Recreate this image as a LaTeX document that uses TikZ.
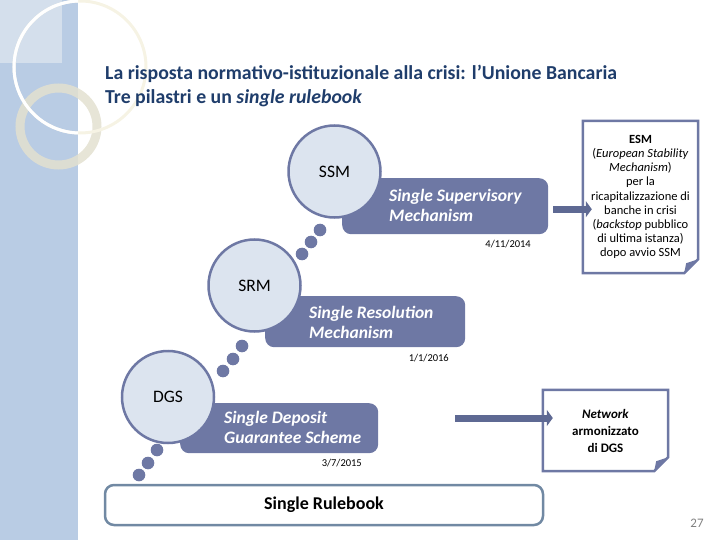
\documentclass[tikz,border=0pt]{standalone}
\usepackage{fontspec}
\setmainfont{Carlito}
\usetikzlibrary{positioning,calc,arrows.meta}

\definecolor{pasek}{HTML}{B9CCE4}
\definecolor{pasekjasny}{HTML}{D4DFEC}
\definecolor{krem}{HTML}{F6F3E4}
\definecolor{bez}{HTML}{E3E0D0}
\definecolor{tytul}{HTML}{1F3D6B}
\definecolor{filar}{HTML}{6E78A4}
\definecolor{filarjasny}{HTML}{DCE4EF}
\definecolor{ramka}{HTML}{7189A3}
\definecolor{strzalka}{HTML}{5E6993}

\tikzset{
	pillar/.style={circle, draw=filar, fill=filarjasny, line width=2.5pt, minimum size=92pt, inner sep=0pt, font=\fontsize{17.5}{20}\selectfont},
	pbox/.style={fill=filar, rounded corners=9pt, anchor=north west, inner sep=0pt},
	ptext/.style={text=white, anchor=west, align=left, inner sep=0pt, font=\fontsize{17.5}{20}\selectfont\bfseries\itshape},
	pdate/.style={anchor=east, inner sep=0pt, font=\fontsize{10.5}{12}\selectfont},
	note/.style={minimum width=115pt, minimum height=152pt, inner sep=0pt, align=center},
	notebox/.style={draw=filar, line width=2.5pt, fill=white, line join=miter},
	bigarrow/.style={line width=7pt, strzalka, -{Triangle[length=6pt,width=16pt]}},
	heading/.style={anchor=west, inner sep=0pt, text=tytul, font=\fontsize{19.8}{22}\selectfont\bfseries}
}

\begin{document}
\begin{tikzpicture}[x=1pt,y=-1pt]
	\useasboundingbox (0,0) rectangle (720,540);

	% tlo
	\fill[pasek] (0,0) rectangle (78,540);
	\fill[pasekjasny] (0,0) rectangle (62,63);
	\draw[bez, opacity=0.85, line width=9pt] (58.5,126.5) circle (38.5);
	\draw[krem, line width=3pt] (80,67) circle (66);
	\begin{scope}
		\clip (0,0) rectangle (78,540);
		\draw[white, line width=3pt] (80,67) circle (66);
	\end{scope}

	\node[heading] (title1) at (105,74) {La risposta normativo-istituzionale alla crisi: l’Unione Bancaria};
	\node[heading] (title2) at (105,98) {Tre pilastri e un \textit{single rulebook}};

	% pilastri
	\node[pbox, minimum width=206pt, minimum height=56pt] (ssmbox) at (342,178) {};
	\node[pbox, minimum width=200pt, minimum height=51pt] (srmbox) at (265,296) {};
	\node[pbox, minimum width=198pt, minimum height=50pt] (dgsbox) at (180,403) {};

	\node[pillar] (ssm) at (334.5,171.5) {SSM};
	\node[pillar] (srm) at (254.5,285.5) {SRM};
	\node[pillar] (dgs) at (168,397) {DGS};

	\node[ptext] (ssmtext) at (389,205) {Single Supervisory\\Mechanism};
	\node[ptext] (srmtext) at (309,322) {Single Resolution\\Mechanism};
	\node[ptext] (dgstext) at (224,427) {Single Deposit\\Guarantee Scheme};

	\node[pdate] (ssmdate) at (531,244) {4/11/2014};
	\node[pdate] (srmdate) at (449,358) {1/1/2016};
	\node[pdate] (dgsdate) at (362,463) {3/7/2015};

	\foreach \x/\y in {320/230, 311/242, 302/254, 242/346, 233/359, 223/371, 157/450, 148/463, 139/475} {
		\fill[filar] (\x,\y) circle (6.3);
	}

	\node[draw=ramka, line width=2.5pt, fill=white, rounded corners=9pt, minimum width=438pt, minimum height=40pt, font=\fontsize{18}{21}\selectfont\bfseries] (rulebook) at (324,505) {Single Rulebook};

	% note
	\node[note] (esm) at (640.5,197) {};
	\draw[notebox] (esm.north west) -- (esm.north east) -- ($(esm.south east)+(0,-14)$) -- ($(esm.south east)+(-14,0)$) -- (esm.south west) -- cycle;
	\fill[filar] ($(esm.south east)+(0,-14)$) -- ($(esm.south east)+(-14,0)$) -- ($(esm.south east)+(-12,-10)$) -- cycle;
	\node[align=center, inner sep=0pt, font=\fontsize{12.5}{14.2}\selectfont] (esmtext) at (esm.center) {\textbf{ESM}\\(\textit{European Stability}\\\textit{Mechanism})\\per la\\ricapitalizzazione di\\banche in crisi\\(\textit{backstop} pubblico\\di ultima istanza)\\dopo avvio SSM};

	\node[note, minimum width=125pt, minimum height=81pt] (net) at (605.5,430.5) {};
	\draw[notebox] (net.north west) -- (net.north east) -- ($(net.south east)+(0,-14)$) -- ($(net.south east)+(-14,0)$) -- (net.south west) -- cycle;
	\fill[filar] ($(net.south east)+(0,-14)$) -- ($(net.south east)+(-14,0)$) -- ($(net.south east)+(-12,-10)$) -- cycle;
	\node[align=center, inner sep=0pt, font=\fontsize{13}{17}\selectfont\bfseries] (nettext) at (net.center) {\textit{Network}\\armonizzato\\di DGS};

	\coordinate (netstart) at (455,418);
	\draw[bigarrow] ($(ssmbox.east)+(5,3)$) -- ($(esm.west |- ssmbox.east)+(9,3)$);
	\draw[bigarrow] (netstart) -- ($(net.west)+(10,-12.5)$);

	\node[text=gray, font=\fontsize{13}{15}\selectfont] (pagenum) at (697,523) {27};
\end{tikzpicture}
\end{document}
